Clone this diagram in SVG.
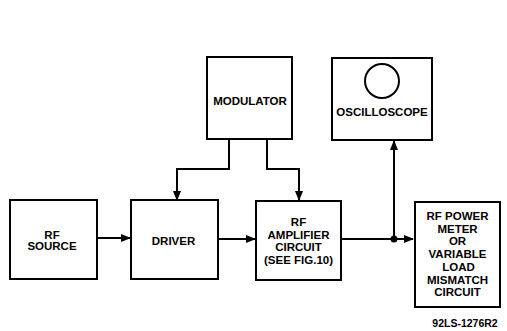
<svg xmlns="http://www.w3.org/2000/svg" width="507" height="331" viewBox="0 0 507 331">
<style>
.box{fill:#fff;stroke:#000;stroke-width:2}
.t{font-family:"Liberation Sans",Arial,sans-serif;font-weight:bold;font-size:11.5px;fill:#000;text-anchor:middle}
.ln{fill:none;stroke:#000;stroke-width:2}
</style>
<defs>
<marker id="ah" markerWidth="10" markerHeight="8" refX="9" refY="4" orient="auto" markerUnits="userSpaceOnUse">
<path d="M0,0 L10,4 L0,8 Z" fill="#000"/>
</marker>
</defs>
<rect width="507" height="331" fill="#fff"/>
<g id="connectors">
<path class="ln" d="M97,238 H130" marker-end="url(#ah)"/>
<path class="ln" d="M218,239 H255" marker-end="url(#ah)"/>
<path class="ln" d="M341,239 H413" marker-end="url(#ah)"/>
<path class="ln" d="M394,239 V141" marker-end="url(#ah)"/>
<path class="ln" d="M229,139 V169 H177 V200" marker-end="url(#ah)"/>
<path class="ln" d="M267,139 V169 H299 V200" marker-end="url(#ah)"/>
<circle cx="394" cy="239" r="3.5" fill="#000"/>
</g>
<g id="rf-source">
<rect class="box" x="10" y="200" width="87" height="79"/>
<text class="t" x="52" y="238.5">RF</text>
<text class="t" x="52" y="250">SOURCE</text>
</g>
<g id="driver">
<rect class="box" x="131" y="200" width="87" height="79"/>
<text class="t" x="173.5" y="244.5">DRIVER</text>
</g>
<g id="modulator">
<rect class="box" x="207" y="57" width="85" height="82"/>
<text class="t" x="250" y="105">MODULATOR</text>
</g>
<g id="rf-amplifier">
<rect class="box" x="256" y="201" width="85" height="79"/>
<text class="t" x="298.5" y="226">RF</text>
<text class="t" x="298.5" y="238.5">AMPLIFIER</text>
<text class="t" x="298.5" y="251">CIRCUIT</text>
<text class="t" x="298.5" y="264">(SEE FIG.10)</text>
</g>
<g id="oscilloscope">
<rect class="box" x="332" y="58" width="100" height="82"/>
<circle cx="382" cy="81" r="17" fill="none" stroke="#000" stroke-width="2"/>
<text class="t" x="382" y="116">OSCILLOSCOPE</text>
</g>
<g id="rf-power-meter">
<rect class="box" x="415" y="202" width="85" height="105"/>
<text class="t" x="457.5" y="220">RF POWER</text>
<text class="t" x="457.5" y="232.7">METER</text>
<text class="t" x="457.5" y="245.4">OR</text>
<text class="t" x="457.5" y="258">VARIABLE</text>
<text class="t" x="458.5" y="270.8">LOAD</text>
<text class="t" x="457.5" y="283.5">MISMATCH</text>
<text class="t" x="457.5" y="296">CIRCUIT</text>
</g>
<text class="t" x="465" y="327" style="font-size:10.5px">92LS-1276R2</text>
</svg>
